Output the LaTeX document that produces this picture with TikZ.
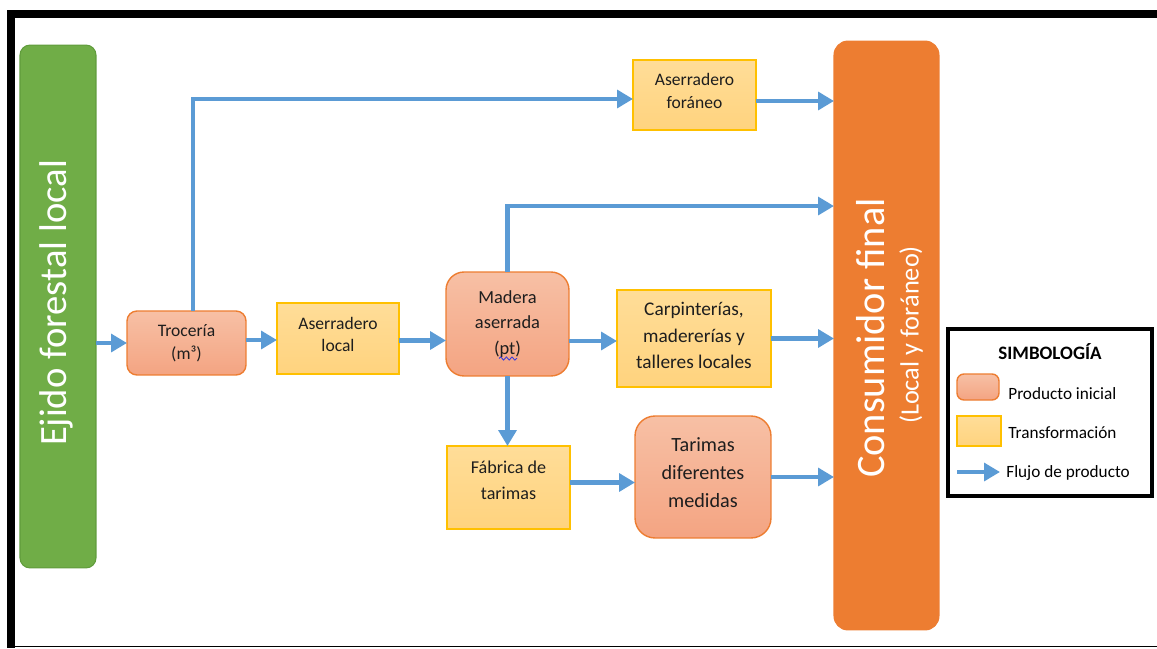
\documentclass[tikz,border=0pt]{standalone}
\usepackage{fontspec}
\setmainfont{Carlito}
\usetikzlibrary{arrows.meta,decorations.pathmorphing}
\definecolor{flowblue}{RGB}{91,155,213}
\definecolor{ejidogreen}{RGB}{112,173,71}
\definecolor{ejidoedge}{RGB}{96,156,60}
\definecolor{consorange}{RGB}{237,125,49}
\definecolor{salmontop}{RGB}{247,192,165}
\definecolor{salmonbot}{RGB}{244,164,130}
\definecolor{salmonedge}{RGB}{237,125,49}
\definecolor{goldtop}{RGB}{255,221,152}
\definecolor{goldbot}{RGB}{255,211,126}
\definecolor{goldedge}{RGB}{255,192,0}
\definecolor{textdark}{RGB}{30,30,30}
\definecolor{spellblue}{RGB}{60,60,220}
\tikzset{
  flowarrow/.style={draw=flowblue, line width=2.6pt, -{Triangle[length=9pt,width=10pt]}},
  prodbox/.style={draw=salmonedge, line width=0.8pt, top color=salmontop, bottom color=salmonbot,
    rounded corners=0.2cm, inner sep=0pt, outer sep=0pt, align=center, text=textdark},
  transbox/.style={draw=goldedge, line width=0.8pt, top color=goldtop, bottom color=goldbot,
    inner sep=0pt, outer sep=0pt, align=center, text=textdark},
  boxtext/.style={align=center, inner sep=0pt, text=textdark},
  legtext/.style={anchor=west, inner sep=0pt, text=black, font=\fontsize{9.8}{12}\selectfont},
}
\begin{document}
\begin{tikzpicture}[x=0.02cm, y=-0.02cm]
\useasboundingbox (0,0) rectangle (1157,649);
% page frame
\fill[black] (7,10) rectangle (1157,18);
\fill[black] (7,10) rectangle (15,648);
\draw[black, line width=1.1pt] (7,646.5) -- (1157,646.5);

% source and destination bars
\node[draw=ejidoedge, fill=ejidogreen, line width=0.6pt, rounded corners=0.2cm,
      minimum width=1.52cm, minimum height=10.46cm, inner sep=0pt, outer sep=0pt]
      (ejido) at (58,306.5) {};
\node[rotate=90, text=white, font=\fontsize{22}{26}\selectfont] (ejidotxt) at (56,303) {Ejido forestal local};

\node[draw=consorange, fill=consorange, line width=0.6pt, rounded corners=0.28cm,
      minimum width=2.1cm, minimum height=11.78cm, inner sep=0pt, outer sep=0pt]
      (cons) at (886.5,335.5) {};
\node[rotate=90, text=white, font=\fontsize{23}{27}\selectfont] (constxt) at (871,338) {Consumidor final};
\node[rotate=90, text=white, font=\fontsize{15}{18}\selectfont] (conssub) at (911,335) {(Local y foráneo)};

% process boxes
\node[prodbox, minimum width=2.38cm, minimum height=1.28cm, font=\fontsize{10}{13}\selectfont]
  (troc) at (186.5,343) {Trocería\\(m³)};
\node[transbox, minimum width=2.44cm, minimum height=1.42cm] (asl) at (338,338.5) {};
\node[boxtext, font=\fontsize{10}{13}\selectfont] (asltxt) at ([yshift=0.08cm]asl.center) {Aserradero\\local};
\node[prodbox, rounded corners=0.36cm, minimum width=2.46cm, minimum height=2.08cm, font=\fontsize{10.5}{14.6}\selectfont]
  (mad) at (507.5,324) {Madera\\aserrada\\(pt)};
\node[transbox, minimum width=2.46cm, minimum height=1.4cm] (asf) at (694.5,95) {};
\node[boxtext, font=\fontsize{10}{13.5}\selectfont] (asftxt) at ([yshift=0.08cm]asf.center) {Aserradero\\foráneo};
\node[transbox, minimum width=3.08cm, minimum height=1.94cm] (carp) at (694,338.5) {};
\node[boxtext, font=\fontsize{11}{15}\selectfont] (carptxt) at ([yshift=0.06cm]carp.center) {Carpinterías,\\madererías y\\talleres locales};
\node[transbox, minimum width=2.46cm, minimum height=1.66cm] (fab) at (508.5,487.5) {};
\node[boxtext, font=\fontsize{10.3}{14.6}\selectfont] (fabtxt) at ([yshift=0.15cm]fab.center) {Fábrica de\\tarimas};
\node[prodbox, rounded corners=0.4cm, minimum width=2.72cm, minimum height=2.44cm] (tar) at (703,477) {};
\node[boxtext, font=\fontsize{11.5}{16}\selectfont] (tartxt) at ([yshift=0.09cm]tar.center) {Tarimas\\diferentes\\medidas};

% spell-check mark under "pt"
\draw[spellblue, line width=0.5pt, decorate, decoration={snake, segment length=3.2, amplitude=0.9}]
  (499,358.5) -- (517,358.5);

% product flows
\draw[flowarrow] (ejido.east |- troc.west) -- (troc.west);
\draw[flowarrow] ([xshift=0.13cm]troc.north) |- ([yshift=-0.08cm]asf.west);
\draw[flowarrow] ([yshift=0.06cm]troc.east) -- ([yshift=0.06cm]troc.east -| asl.west);
\draw[flowarrow] ([yshift=-0.04cm]asl.east) -- ([yshift=-0.04cm]asl.east -| mad.west);
\draw[flowarrow] (mad.north) |- ([yshift=2.59cm]cons.west);
\draw[flowarrow] ([yshift=-0.34cm]mad.east) -- ([yshift=-0.34cm]mad.east -| carp.west);
\draw[flowarrow] (mad.south) -- (mad.south |- fab.north);
\draw[flowarrow] (carp.east) -- (carp.east -| cons.west);
\draw[flowarrow] ([yshift=0.1cm]fab.east) -- ([yshift=0.1cm]fab.east -| tar.west);
\draw[flowarrow] (tar.east) -- (tar.east -| cons.west);
\draw[flowarrow] ([yshift=-0.12cm]asf.east) -- ([yshift=-0.12cm]asf.east -| cons.west);

% legend
\node[draw=black, line width=2.4pt, fill=white, minimum width=4.08cm, minimum height=3.34cm,
      inner sep=0pt, outer sep=0pt] (legend) at (1050,412.5) {};
\node[font=\bfseries\fontsize{10.8}{13}\selectfont, text=black] (legtitle) at (1050,352) {SIMBOLOGÍA};
\node[prodbox, rounded corners=0.14cm, minimum width=0.84cm, minimum height=0.52cm] (legprod) at (978,387) {};
\node[legtext] (legprodtxt) at (1008,394) {Producto inicial};
\node[transbox, minimum width=0.88cm, minimum height=0.6cm] (legtrans) at (979,431) {};
\node[legtext] (legtranstxt) at (1008,433) {Transformación};
\coordinate (legflowa) at (957,472);
\coordinate (legflowb) at (1000,472);
\draw[flowarrow] (legflowa) -- (legflowb);
\node[legtext] (legflowtxt) at (1006,473) {Flujo de producto};
\end{tikzpicture}
\end{document}
